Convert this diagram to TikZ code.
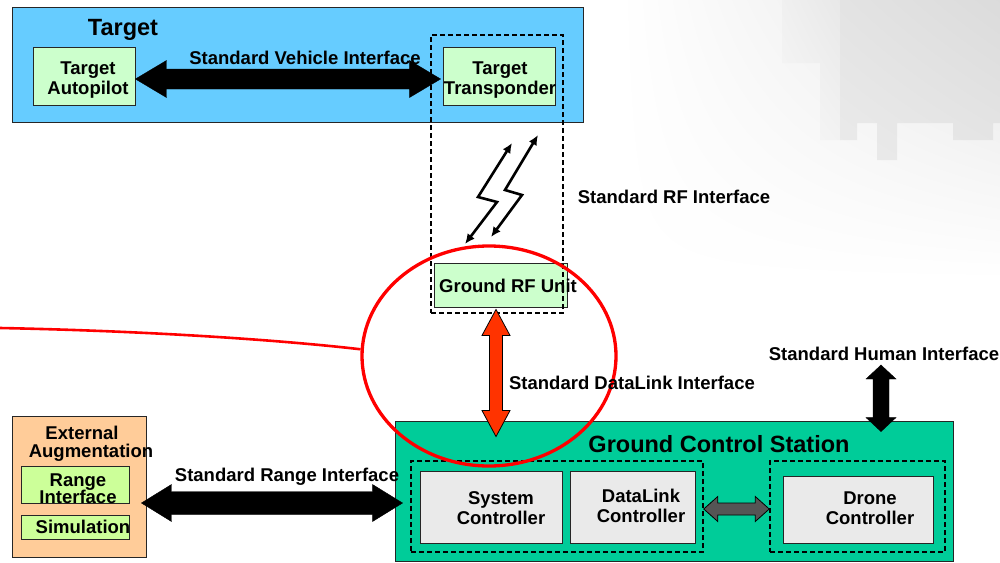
\documentclass[tikz,border=0pt]{standalone}
\usepackage{fontspec}
\setmainfont{Liberation Sans}
\usetikzlibrary{shapes.geometric,arrows.meta,calc,shadings}
\definecolor{tblue}{HTML}{66CCFF}
\definecolor{lgreen}{HTML}{CCFFCC}
\definecolor{ygreen}{HTML}{CCFF99}
\definecolor{gcsgreen}{HTML}{00CC99}
\definecolor{peach}{HTML}{FFCC99}
\definecolor{lgray}{HTML}{EAEAEA}
\definecolor{arrred}{HTML}{FF3300}
\definecolor{dgray}{HTML}{555555}
\newcommand{\cbox}[6]{\node[#6, minimum width={(#4-#2)*1pt}, minimum height={(#5-#3)*1pt}] (#1) at ({(#2+#4)/2},{(#3+#5)/2}) {};}
\newcommand{\hfat}[6]{\draw[#6] let \p1=(#1), \p2=(#2) in
 (\x1,\y1) -- (\x1+#5,\y1+#4) -- (\x1+#5,\y1+#3) -- (\x2-#5,\y1+#3) -- (\x2-#5,\y1+#4) -- (\x2,\y1)
 -- (\x2-#5,\y1-#4) -- (\x2-#5,\y1-#3) -- (\x1+#5,\y1-#3) -- (\x1+#5,\y1-#4) -- cycle;}
\newcommand{\vfat}[6]{\draw[#6] let \p1=(#1), \p2=(#2) in
 (\x1,\y1) -- (\x1+#4,\y1-#5) -- (\x1+#3,\y1-#5) -- (\x1+#3,\y2+#5) -- (\x1+#4,\y2+#5) -- (\x1,\y2)
 -- (\x1-#4,\y2+#5) -- (\x1-#3,\y2+#5) -- (\x1-#3,\y1-#5) -- (\x1-#4,\y1-#5) -- cycle;}
\begin{document}
\begin{tikzpicture}[x=1pt,y=-1pt,
  box/.style={draw=black!85, line width=0.9pt, inner sep=0pt},
  dbox/.style={draw=black, dash pattern=on 5pt off 3pt, line width=1.5pt, inner sep=0pt},
  lbl/.style={font=\fontsize{18.5}{20}\selectfont\bfseries, inner sep=0pt, align=center},
  ttl/.style={font=\fontsize{23.5}{26}\selectfont\bfseries, inner sep=0pt},
  zz/.style={line width=2.6pt, {Latex[length=10pt,width=9pt]}-{Latex[length=10pt,width=9pt]}}]
\useasboundingbox (0,0) rectangle (1000,562);
% faint slide background
\shade[upper right=black!10, upper left=white, lower left=white, lower right=white] (620,0) rectangle (1000,280);
\shade[upper right=black!9, upper left=black!6, lower left=black!3, lower right=black!5]
  (782,0) -- (840,0) -- (840,140) -- (820,140) -- (820,63) -- (782,63) -- cycle;
\shade[upper right=black!14, upper left=black!11, lower left=black!8, lower right=black!10]
  (840,0) -- (1000,0) -- (1000,123) -- (993,123) -- (993,140) -- (953,140) -- (953,123) -- (897,123) -- (897,160) -- (877,160) -- (877,123) -- (857,123) -- (857,140) -- (840,140) -- cycle;

% Target
\cbox{target}{12}{7}{583}{122}{box, fill=tblue}
\node[ttl] (targetT) at (123,30) {Target};
\cbox{ap}{33}{47}{135}{105}{box, fill=lgreen}
\node[lbl] (apT) at (88,80) {Target\\Autopilot};
\cbox{tr}{443}{47}{555}{105}{box, fill=lgreen}
\node[lbl] (trT) at (500,80) {Target\\Transponder};
\hfat{[yshift=-3pt]ap.east}{[xshift=-2pt,yshift=-3pt]tr.west}{10pt}{18.5pt}{31pt}{fill=black}
\node[lbl] (svi) at (305,58) {Standard Vehicle Interface};

% RF
\cbox{rf}{434}{263}{567}{307}{box, fill=lgreen}
\node[lbl] (rfT) at (508,286) {Ground RF Unit};
\cbox{rfdash}{431}{35}{563}{313}{dbox}
\coordinate (za1) at (512,143);
\coordinate (za2) at (478,197);
\coordinate (za3) at (497,202);
\coordinate (za4) at (465,244);
\coordinate (zb1) at (538,135);
\coordinate (zb2) at (505,190);
\coordinate (zb3) at (522,195);
\coordinate (zb4) at (491,237);
\draw[zz] (za1) -- (za2) -- (za3) -- (za4);
\draw[zz] (zb1) -- (zb2) -- (zb3) -- (zb4);
\node[lbl] (srf) at (674,197) {Standard RF Interface};

% Ground Control Station
\cbox{gcs}{395}{421}{953}{561}{box, fill=gcsgreen}
\node[ttl] (gcsT) at (719,444) {Ground Control Station};
\cbox{sys}{420}{471}{562}{543}{box, fill=lgray}
\node[lbl] (sysT) at (501,508) {System\\Controller};
\cbox{dl}{570}{471}{695}{543}{box, fill=lgray}
\node[lbl] (dlT) at (641,506) {DataLink\\Controller};
\cbox{ldash}{411}{461}{703}{552}{dbox}
\cbox{dr}{783}{476}{933}{543}{box, fill=lgray}
\node[lbl] (drT) at (870,508) {Drone\\Controller};
\cbox{rdash}{770}{461}{945}{552}{dbox}
\hfat{[yshift=-2.5pt]ldash.east}{[yshift=-2.5pt]rdash.west}{6pt}{12.5pt}{14pt}{fill=dgray, draw=black, line width=0.8pt}

% Human interface
\node[lbl] (shi) at (884,354) {Standard Human Interface};
\coordinate (humTop) at (881,365);
\coordinate (humBot) at ([yshift=-11pt]humTop |- gcs.north);
\vfat{humTop}{humBot}{8pt}{15pt}{14pt}{fill=black}

% External augmentation
\cbox{ext}{12}{416}{146}{557}{box, fill=peach}
\node[lbl] (extT1) at (82,433) {External};
\node[lbl] (extT2) at (91,453) {Augmentation};
\cbox{rng}{21}{466}{129}{503}{box, fill=ygreen}
\node[lbl] (rngT) at (78,489) {Range\\[-3pt]Interface};
\cbox{sim}{21}{515}{129}{539}{box, fill=ygreen}
\node[lbl] (simT) at (83,527) {Simulation};
\hfat{[xshift=-5pt,yshift=-16.5pt]ext.east}{[xshift=8pt,yshift=-12pt]gcs.west}{11.5pt}{18.5pt}{30pt}{fill=black}
\node[lbl] (sri) at (287,477) {Standard Range Interface};

% DataLink interface
\coordinate (dlTop) at ([xshift=-4.5pt,yshift=-2pt]rf.south);
\coordinate (dlBot) at ([yshift=-16pt]dlTop |- gcs.north);
\vfat{dlTop}{dlBot}{6.5pt}{14pt}{26pt}{fill=arrred, draw=black, line width=0.8pt}

% red ellipse and line
\node[ellipse, draw=red, line width=3.3pt, minimum width=254pt, minimum height=220pt, inner sep=0pt] (circ) at (489,356) {};
\coordinate (redStart) at (0,328);
\draw[red, line width=2.6pt] (redStart) .. controls (150,331) and (280,340) .. (circ.177);
\node[lbl] (sdl) at (632,383) {Standard DataLink Interface};
\end{tikzpicture}
\end{document}
